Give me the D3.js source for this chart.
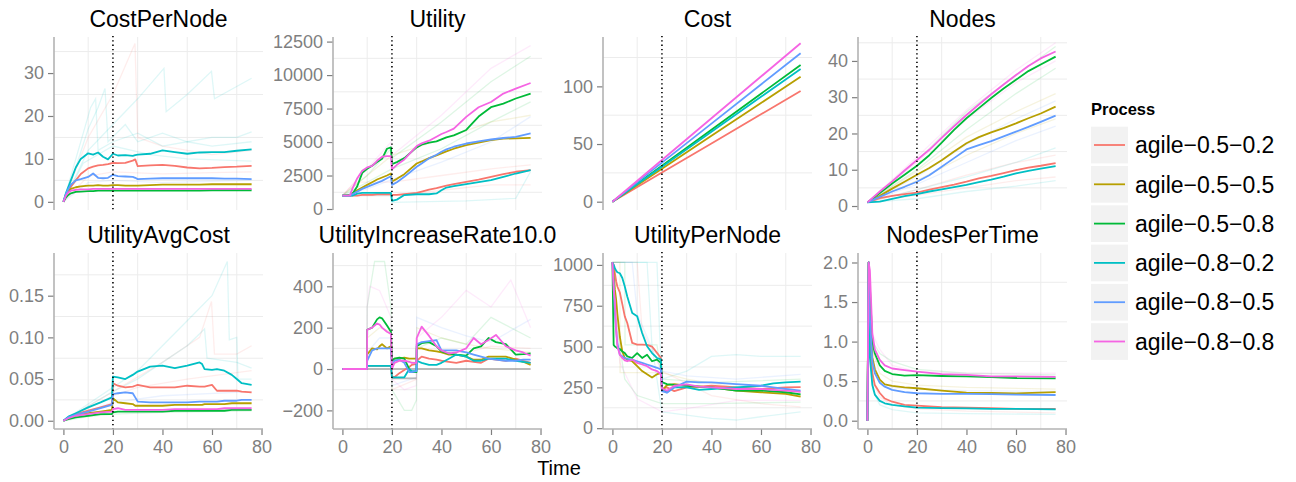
<!DOCTYPE html>
<html><head><meta charset="utf-8">
<script src="https://cdn.jsdelivr.net/npm/d3@7"></script>
<style>
html,body{margin:0;padding:0;background:#fff;}
text{font-family:"Liberation Sans",Arial,Helvetica,sans-serif;}
</style></head>
<body><svg id="chart" width="1296" height="482"></svg>
<script>
// ---------- data ----------
const processes = ["agile\u22120.5\u22120.2","agile\u22120.5\u22120.5","agile\u22120.5\u22120.8","agile\u22120.8\u22120.2","agile\u22120.8\u22120.5","agile\u22120.8\u22120.8"];
const colors = ["#F8766D","#B79F00","#00BA38","#00BFC4","#619CFF","#F564E3"];
const xTicks = [0,20,40,60,80];
const xTickLabels = ["0","20","40","60","80"];

// CostPerNode
const cpnX = [0,1,2,3,5,7,10,12,14,16,18,20,22,25,28,29,30,35,40,45,50,55,60,65,70,76];
const cpnY = [
 [0,1.5,2.5,3.5,5,6.5,7.8,8.2,8.5,8.6,8.8,9.1,9.0,9.1,9.6,9.9,8.3,8.5,8.6,8.4,8.0,7.8,7.9,8.1,8.2,8.4],
 [0,1.6,2.6,3.0,3.4,3.6,3.8,3.8,3.9,3.8,3.8,3.9,3.9,3.8,3.8,3.8,3.8,3.9,4.0,4.0,4.0,4.0,4.1,4.1,4.1,4.1],
 [0,1.0,1.6,2.0,2.3,2.4,2.5,2.5,2.6,2.6,2.6,2.6,2.6,2.6,2.6,2.6,2.6,2.6,2.6,2.6,2.6,2.6,2.7,2.7,2.7,2.7],
 [0,2,3.5,5,8,10,11.3,11.0,11.5,10.5,9.9,11.2,10.8,10.9,10.7,10.9,11.0,11.2,12.0,11.6,11.2,11.5,11.6,11.6,11.9,12.2],
 [0,1.8,3,4,5,5.3,5.8,6.6,5.6,5.5,5.6,6.3,6.0,5.9,5.8,5.6,5.3,5.4,5.5,5.5,5.5,5.5,5.5,5.4,5.4,5.3],
 [0,1.4,2.2,2.6,2.8,2.9,2.9,3.0,3.0,3.0,3.0,3.0,3.0,3.0,3.0,3.0,3.0,3.0,3.0,3.0,3.0,3.0,3.0,3.0,3.0,3.0]];
const cpnTicks = [0,10,20,30];
const cpnLabels = ["0","10","20","30"];
const cpnFaint = [
 {k:3, x:[0,5,10,14,16.8,18,25,30,40,50,60,70,76], y:[0,8,17,22,26.4,14,18,14,16,14,15,15,16.3]},
 {k:0, x:[0,10,20,28.9,30,40,50,60,76], y:[0,15,25,36.9,15,13,12,11,12]},
 {k:3, x:[0,10,20,30,40.6,41.5,50,59.8,61,76], y:[0,12,18,24,31.1,21,25,30.4,24,28.8]},
 {k:3, x:[0,6,11,13,14,20,30,40,50,60,76], y:[0,12,22,24,12,14,16,13,14,13,14]},
 {k:0, x:[0,10,20,40,60,76], y:[0,6,7,6.5,6.8,7]},
 {k:4, x:[0,10,20,40,60,76], y:[0,4.5,5,4.5,4.8,5]},
 {k:3, x:[0,8,20,35,50,76], y:[0,9,13,11,10,9.5]}];

// Utility
const utX = [0,3,4,6,8,10,12,14,16,18,19.6,20,22,25,30,32,35,38,40,42,45,50,55,60,65,70,76];
const utY = [
 [1000,1000,1000,1000,1050,1050,1050,1100,1100,1100,1100,1050,1050,1100,1200,1300,1450,1550,1650,1750,1850,2030,2200,2400,2600,2780,2900],
 [1000,1050,1150,1400,1600,1800,2000,2200,2350,2500,2650,2050,2250,2600,3400,3550,3800,4000,4150,4300,4500,4770,4950,5140,5250,5280,5310],
 [1000,1000,1100,1700,2700,3000,3230,3500,3750,4500,4600,3350,3500,3800,4600,4800,4950,5050,5200,5350,5500,5900,6900,7600,7870,8250,8620],
 [1000,1000,1000,1150,1200,1200,1200,1200,1200,1200,1200,600,700,1040,1100,1100,1100,1160,1400,1600,1700,1850,2000,2150,2400,2650,2900],
 [1000,1000,1100,1300,1500,1650,1800,1950,2100,2300,2450,1800,2000,2400,3150,3400,3780,4050,4270,4450,4650,4890,5050,5190,5300,5390,5640],
 [1000,1000,1500,2300,2850,3100,3220,3600,3900,3950,3950,2960,3300,3700,4700,4900,5100,5400,5600,5750,6000,6880,7600,7990,8620,8990,9410]];
const utTicks = [0,2500,5000,7500,10000,12500];
const utLabels = ["0","2500","5000","7500","10000","12500"];
const utFaint = [
 {k:5, x:[0,10,19.6,20,40,60,76], y:[1000,3000,5000,4000,7000,10500,12200]},
 {k:2, x:[0,10,19.6,20,40,60,76], y:[1000,2500,4500,3800,6500,9500,11400]},
 {k:2, x:[0,10,20,40,60,76], y:[1000,2000,3000,4500,6500,8000]},
 {k:4, x:[0,10,20,40,60,76], y:[1000,1500,2200,3500,5000,6900]},
 {k:0, x:[0,20,40,60,76], y:[1000,1000,1400,1800,1800]},
 {k:3, x:[0,20,20.1,50,70,76], y:[1000,1000,500,600,800,2800]},
 {k:1, x:[0,10,20,40,60,76], y:[1000,2500,4000,5200,6500,7000]},
 {k:0, x:[0,5,20,40,60,76], y:[1000,2000,2000,2500,3000,3300]}];

// Cost
const coX = [0,20,40,60,76];
const coY = [
 [0,25.3,50.5,75.8,96.0],
 [0,28.5,57.1,85.6,108.4],
 [0,31.2,62.4,93.6,118.6],
 [0,30.3,60.6,90.9,115.1],
 [0,33.9,67.7,101.6,128.7],
 [0,36.2,72.3,108.5,137.4]];
const coTicks = [0,50,100];
const coLabels = ["0","50","100"];
const coFaint = [];

// Nodes
const ndX = [0,5,10,15,20,25,30,35,40,45,50,55,60,65,70,76];
const ndY = [
 [1,2.2,2.8,3.3,3.7,4.5,5.2,5.9,6.7,7.6,8.3,9.1,9.9,10.6,11.1,11.8],
 [1,2.8,4.8,6.7,8.6,10.5,12.6,15.0,17.3,19.0,20.3,21.5,22.8,24.2,25.5,27.4],
 [1,3.6,6.2,8.6,11.1,14.0,17.5,21.0,24.2,27,29.8,32.4,34.8,37.2,39.0,41.2],
 [1,1.2,2.0,2.7,3.3,4.0,4.6,5.2,5.8,6.6,7.3,8.1,9.0,9.7,10.3,11.0],
 [1,2.5,4.0,5.3,6.7,8.5,10.8,13.2,15.6,16.8,17.9,19.2,20.5,21.8,23.2,24.9],
 [1,4.0,6.8,9.8,12.7,15.5,18.8,22.0,25.1,28,30.8,33.5,36.1,38.6,40.7,42.6]];
const ndTicks = [0,10,20,30,40];
const ndLabels = ["0","10","20","30","40"];
const ndFaint = [
 {k:5, x:[0,20,40,60,76], y:[1,13.5,26.5,37.5,45]},
 {k:5, x:[0,20,40,60,76], y:[1,12,24,34,40]},
 {k:2, x:[0,20,40,60,76], y:[1,10,21,31,38]},
 {k:2, x:[0,20,40,60,76], y:[1,12.5,26,36,44]},
 {k:1, x:[0,20,40,60,76], y:[1,9.5,19,26,31]},
 {k:1, x:[0,20,40,60,76], y:[1,7,14,20,24]},
 {k:4, x:[0,20,40,60,76], y:[1,8,17,24,29]},
 {k:4, x:[0,20,40,60,76], y:[1,6,12,18,22]},
 {k:0, x:[0,20,40,60,76], y:[1,4.5,8.5,12,14]},
 {k:0, x:[0,20,40,60,76], y:[1,3,5,7,8]},
 {k:3, x:[0,20,40,60,76], y:[1,4.5,8,12,16]},
 {k:3, x:[0,20,40,60,76], y:[1,2,4,5.5,7]}];

// UtilityAvgCost
const uacX = [0,2,5,10,15,19.6,20,22,25,28,29,30,35,40,45,50,55,56,57,60,62,65,68,70,72,76];
const uacY = [
 [0,0.004,0.008,0.012,0.016,0.020,0.045,0.042,0.040,0.041,0.042,0.043,0.040,0.040,0.040,0.042,0.041,0.041,0.041,0.043,0.036,0.036,0.036,0.036,0.035,0.034],
 [0,0.003,0.006,0.009,0.011,0.013,0.027,0.022,0.021,0.020,0.018,0.018,0.018,0.018,0.019,0.019,0.019,0.019,0.020,0.020,0.020,0.020,0.021,0.021,0.021,0.021],
 [0,0.002,0.004,0.006,0.008,0.008,0.010,0.011,0.011,0.011,0.011,0.011,0.011,0.011,0.012,0.012,0.012,0.012,0.012,0.012,0.012,0.012,0.013,0.013,0.013,0.013],
 [0,0.005,0.009,0.016,0.022,0.028,0.053,0.052,0.050,0.055,0.057,0.059,0.065,0.066,0.063,0.066,0.070,0.068,0.062,0.061,0.062,0.060,0.055,0.050,0.045,0.043],
 [0,0.004,0.007,0.011,0.015,0.019,0.032,0.033,0.034,0.033,0.028,0.023,0.022,0.022,0.022,0.022,0.023,0.023,0.023,0.023,0.023,0.024,0.024,0.024,0.025,0.025],
 [0,0.003,0.006,0.008,0.010,0.011,0.014,0.015,0.013,0.013,0.013,0.013,0.013,0.013,0.014,0.014,0.014,0.014,0.014,0.014,0.014,0.015,0.015,0.015,0.015,0.015]];
const uacTicks = [0,0.05,0.10,0.15];
const uacLabels = ["0.00","0.05","0.10","0.15"];
const uacFaint = [
 {k:3, x:[0,10,20,30,40,50,60,66.2,67,70,70.5,76], y:[0,0.02,0.04,0.06,0.09,0.12,0.15,0.191,0.097,0.10,0.05,0.05]},
 {k:0, x:[0,20,40,55,59.8,61,70,76], y:[0,0.035,0.07,0.10,0.143,0.08,0.08,0.09]},
 {k:3, x:[0,20,30,40,50,57,58,70,76], y:[0,0.035,0.05,0.07,0.09,0.11,0.075,0.07,0.063]},
 {k:0, x:[0,20,30,50,76], y:[0,0.03,0.04,0.05,0.06]},
 {k:4, x:[0,10,20,40,76], y:[0,0.012,0.022,0.03,0.035]},
 {k:2, x:[0,10,20,40,76], y:[0,0.005,0.008,0.01,0.012]}];

// UtilityIncreaseRate10.0
const uirX = [0,9.9,10,12,14,15,16,18,19.6,20,21,23,25,27,28,29.9,30,32,35,38,40,43,46,50,53,56,59,62,66,70,73,76];
const uirY = [
 [0,0,15,15,15,15,15,15,15,-35,-40,-20,-5,10,20,25,40,60,50,45,40,35,30,40,35,30,50,45,40,50,40,30],
 [0,0,70,100,95,110,120,100,110,40,50,50,55,50,50,50,100,100,90,85,80,70,70,60,45,45,60,60,60,45,35,20],
 [0,0,190,200,240,250,245,210,180,40,50,55,50,0,-15,-15,110,125,130,110,85,75,70,65,100,110,150,130,120,70,72,75],
 [0,0,15,15,15,15,15,15,15,-40,-40,-40,-40,0,-10,-10,40,30,20,20,30,50,70,60,40,40,50,50,50,40,35,30],
 [0,0,40,90,100,100,100,100,100,10,40,45,30,-15,-15,-10,120,130,135,140,90,90,90,80,70,60,50,45,40,40,45,45],
 [0,0,190,200,220,215,200,180,170,0,30,40,40,35,30,30,150,205,160,110,90,75,80,100,150,120,140,165,110,90,80,65]];
const uirTicks = [-200,0,200,400];
const uirLabels = ["\u2212200","0","200","400"];
const uirFaint = [
 {k:2, x:[0,9.9,10,13,17,19.6,20,25,28,29.9,30,40,50,60,76], y:[0,0,300,520,520,300,-100,-200,-200,-150,100,150,120,250,150]},
 {k:5, x:[0,9.9,10,11,15,19.6,20,25,29.9,30,40,50,60,68,76], y:[0,0,300,400,380,250,-50,-100,-80,150,250,380,300,430,200]},
 {k:1, x:[0,9.9,10,15,19.6,20,25,29.9,30,40,50,60,76], y:[0,0,150,200,180,20,50,30,200,150,120,100,80]},
 {k:4, x:[0,9.9,10,15,19.6,20,25,29.9,30,40,50,60,76], y:[0,0,80,150,150,-80,-60,-40,250,200,160,130,240]},
 {k:0, x:[0,9.9,10,19.6,20,29.9,30,40,50,60,76], y:[0,0,100,100,-100,-50,100,90,80,110,100]}];
const uirGray = [
 {x:[10,76], y:[0,0]},
 {x:[20,29.9], y:[-45,-45]}];

// UtilityPerNode
const upnX = [0,0.5,1,1.5,2,3,4,5,6,8,10,12,14,16,18,19.6,20,22,25,30,35,40,50,60,65,70,76];
const upnY = [
 [1016,1000,950,900,868,831,760,685,644,522,512,512,510,500,461,430,240,250,227,250,255,260,250,240,245,250,252],
 [1016,950,850,787,700,560,470,430,420,410,380,350,330,310,330,340,230,264,270,260,255,250,230,220,215,210,193],
 [1016,510,500,495,490,485,470,460,440,430,460,430,450,410,420,400,282,270,265,260,255,250,230,230,225,220,207],
 [1016,1000,980,965,955,949,920,868,807,705,685,583,502,460,430,421,238,220,250,250,235,240,250,260,275,280,285],
 [1016,900,700,600,520,450,440,430,425,420,410,400,390,380,370,360,227,217,250,285,280,280,270,260,250,240,230],
 [1016,850,780,600,500,450,430,415,410,420,400,390,380,360,350,330,242,230,260,268,255,250,240,240,235,230,222]];
const upnTicks = [0,250,500,750,1000];
const upnLabels = ["0","250","500","750","1000"];
const upnFaint = [
 {k:3, x:[0,18,19,20,30,40,50,60,76], y:[1016,1016,600,300,350,440,450,440,440]},
 {k:0, x:[0,10,12,20,40,60,76], y:[1016,1016,600,350,200,150,130]},
 {k:2, x:[0,2,5,10,20,40,76], y:[1016,600,300,200,150,150,160]},
 {k:5, x:[0,3,10,20,30,50,76], y:[1016,400,180,100,120,170,170]},
 {k:3, x:[0,14,16,20,30,40,50,60,76], y:[1016,1016,500,100,80,60,50,70,100]},
 {k:1, x:[0,3,3.1,20,30,50,76], y:[1016,1016,340,340,300,250,200]},
 {k:2, x:[0,5,5.1,18,20,40,76], y:[1016,1016,510,510,300,280,300]},
 {k:4, x:[0,8,10,20,30,50,76], y:[1016,1016,700,350,320,300,330]}];

// NodesPerTime
const nptX = [0,0.5,1,2,3,5,7,10,15,20,30,40,50,60,76];
const nptY = [
 [0,2.0,1.0,0.6,0.45,0.35,0.28,0.24,0.2,0.19,0.17,0.165,0.16,0.15,0.15],
 [0,2.0,1.4,0.8,0.65,0.52,0.46,0.44,0.42,0.41,0.38,0.355,0.35,0.345,0.36],
 [0,2.0,1.7,1.0,0.85,0.7,0.63,0.59,0.57,0.575,0.565,0.56,0.55,0.54,0.536],
 [0,2.0,0.8,0.45,0.33,0.25,0.22,0.2,0.18,0.165,0.16,0.155,0.15,0.15,0.144],
 [0,2.0,1.3,0.75,0.6,0.48,0.43,0.39,0.36,0.347,0.34,0.34,0.335,0.33,0.325],
 [0,2.0,1.9,1.1,0.9,0.77,0.7,0.66,0.64,0.62,0.59,0.58,0.56,0.56,0.555]];
const nptTicks = [0,0.5,1.0,1.5,2.0];
const nptLabels = ["0.0","0.5","1.0","1.5","2.0"];
const nptFaint = [
 {k:2, x:[0,0.5,2,5,10,20,40,76], y:[0,2,1.0,0.85,0.75,0.65,0.6,0.58]},
 {k:5, x:[0,0.5,2,5,10,20,40,76], y:[0,2,1.1,0.9,0.7,0.62,0.6,0.6]},
 {k:1, x:[0,0.5,2,5,10,20,40,76], y:[0,2,0.9,0.6,0.5,0.45,0.42,0.4]},
 {k:4, x:[0,0.5,2,5,10,20,40,76], y:[0,2,0.8,0.5,0.42,0.4,0.38,0.37]},
 {k:0, x:[0,0.5,2,5,10,20,40,76], y:[0,2,0.5,0.3,0.2,0.15,0.12,0.1]},
 {k:3, x:[0,0.5,2,5,10,20,40,76], y:[0,2,0.4,0.2,0.14,0.1,0.09,0.08]}];

// ---------- layout ----------
const colLeft = [54, 333, 603, 858];
const panelW = 209;
const rowTop = [37, 253], rowBot = [210, 429];

const panels = [
 {title:"CostPerNode", x:cpnX, y:cpnY, f:cpnFaint, t:cpnTicks, l:cpnLabels, d:[-1.9,38.4], c:0, r:0},
 {title:"Utility", x:utX, y:utY, f:utFaint, t:utTicks, l:utLabels, d:[-75,12843], c:1, r:0},
 {title:"Cost", x:coX, y:coY, f:coFaint, t:coTicks, l:coLabels, d:[-7.2,142.8], c:2, r:0},
 {title:"Nodes", x:ndX, y:ndY, f:ndFaint, t:ndTicks, l:ndLabels, d:[-1.1,46.6], c:3, r:0},
 {title:"UtilityAvgCost", x:uacX, y:uacY, f:uacFaint, t:uacTicks, l:uacLabels, d:[-0.0099,0.2012], c:0, r:1},
 {title:"UtilityIncreaseRate10.0", x:uirX, y:uirY, f:uirFaint, g:uirGray, t:uirTicks, l:uirLabels, d:[-290,561], c:1, r:1},
 {title:"UtilityPerNode", x:upnX, y:upnY, f:upnFaint, t:upnTicks, l:upnLabels, d:[-5,1073], c:2, r:1},
 {title:"NodesPerTime", x:nptX, y:nptY, f:nptFaint, t:nptTicks, l:nptLabels, d:[-0.105,2.12], c:3, r:1}
];

const svg = d3.select("#chart");
const gridCol = "#ececec", axisCol = "#b3b3b3", tickTextCol = "#7f7f7f";

panels.forEach(p => {
  const x0 = colLeft[p.c], y0 = rowTop[p.r], y1 = rowBot[p.r];
  const xs = d3.scaleLinear().domain([-3.8, 80.6]).range([x0, x0 + panelW]);
  const ys = d3.scaleLinear().domain(p.d).range([y1, y0]);
  const g = svg.append("g");

  // minor grid
  const step = p.t[1] - p.t[0];
  const minorY = [];
  for (let v = p.t[0] - step / 2; v <= p.d[1]; v += step) if (v >= p.d[0]) minorY.push(v);
  g.selectAll(".hy").data(minorY).enter().append("line")
    .attr("x1", x0).attr("x2", x0 + panelW).attr("y1", d => ys(d)).attr("y2", d => ys(d))
    .attr("stroke", gridCol).attr("stroke-width", 1);
  g.selectAll(".vx").data([10,30,50,70]).enter().append("line")
    .attr("x1", d => xs(d)).attr("x2", d => xs(d)).attr("y1", y0).attr("y2", y1)
    .attr("stroke", gridCol).attr("stroke-width", 1);

  // faint individual runs
  const fl = d3.line().x(d => xs(d[0])).y(d => ys(d[1]));
  (p.f || []).forEach(tr => {
    g.append("path").attr("d", fl(tr.x.map((v, i) => [v, tr.y[i]]))).attr("fill", "none")
      .attr("stroke", colors[tr.k]).attr("stroke-opacity", 0.13).attr("stroke-width", 1.3);
  });
  (p.g || []).forEach(tr => {
    g.append("path").attr("d", fl(tr.x.map((v, i) => [v, tr.y[i]]))).attr("fill", "none")
      .attr("stroke", "#8c8c8c").attr("stroke-opacity", 0.6).attr("stroke-width", 1.8);
  });

  // series
  const line = d3.line().x((d, i) => xs(p.x[i])).y(d => ys(d));
  p.y.forEach((vals, k) => {
    g.append("path").attr("d", line(vals)).attr("fill", "none")
      .attr("stroke", colors[k]).attr("stroke-width", 1.8).attr("stroke-linejoin", "round");
  });

  // dotted line at 20
  g.append("line").attr("x1", xs(20)).attr("x2", xs(20)).attr("y1", y0 - 1).attr("y2", y1)
    .attr("stroke", "#000").attr("stroke-width", 1.6).attr("stroke-dasharray", "1.3,3");

  // y axis
  const ya = d3.axisLeft(ys).tickValues(p.t).tickFormat((d, i) => p.l[i]).tickSize(6).tickPadding(4);
  const yg = g.append("g").attr("transform", `translate(${x0},0)`).call(ya);
  yg.select(".domain").remove();
  yg.selectAll(".tick line").attr("stroke", tickTextCol).attr("stroke-width", 1.2);
  yg.selectAll(".tick text").attr("fill", tickTextCol).style("font-size", "18px")
    .style("font-family", '"Liberation Sans",Arial,sans-serif');
  g.append("line").attr("x1", x0).attr("x2", x0).attr("y1", y0).attr("y2", y1)
    .attr("stroke", axisCol).attr("stroke-width", 1.6);

  // x axis on bottom row
  if (p.r === 1) {
    const xa = d3.axisBottom(xs).tickValues(xTicks).tickFormat((d, i) => xTickLabels[i]).tickSize(6).tickPadding(5);
    const xg = g.append("g").attr("transform", `translate(0,${y1})`).call(xa);
    xg.select(".domain").remove();
    xg.selectAll(".tick line").attr("stroke", tickTextCol).attr("stroke-width", 1.2);
    xg.selectAll(".tick text").attr("fill", tickTextCol).style("font-size", "18px")
      .style("font-family", '"Liberation Sans",Arial,sans-serif');
    g.append("line").attr("x1", x0).attr("x2", x0 + panelW).attr("y1", y1).attr("y2", y1)
      .attr("stroke", axisCol).attr("stroke-width", 1.6);
  }

  // title
  svg.append("text").attr("x", x0 + panelW / 2).attr("y", y0 - 10)
    .attr("text-anchor", "middle").style("font-size", "23px").attr("fill", "#000").text(p.title);
});

// axis title
svg.append("text").attr("x", 559).attr("y", 475).attr("text-anchor", "middle")
  .style("font-size", "20px").attr("fill", "#000").text("Time");

// legend
const lg = svg.append("g");
lg.append("text").attr("x", 1091).attr("y", 115).style("font-size", "16.5px")
  .style("font-weight", "bold").attr("fill", "#000").text("Process");
processes.forEach((name, k) => {
  const top = 126.7 + k * 39.3;
  lg.append("rect").attr("x", 1091).attr("y", top).attr("width", 37).attr("height", 36.7).attr("fill", "#f2f2f2");
  lg.append("line").attr("x1", 1094).attr("x2", 1125).attr("y1", top + 18.3).attr("y2", top + 18.3)
    .attr("stroke", colors[k]).attr("stroke-width", 1.8);
  lg.append("text").attr("x", 1135).attr("y", top + 26.5).style("font-size", "23px").attr("fill", "#000").text(name);
});
</script></body></html>
